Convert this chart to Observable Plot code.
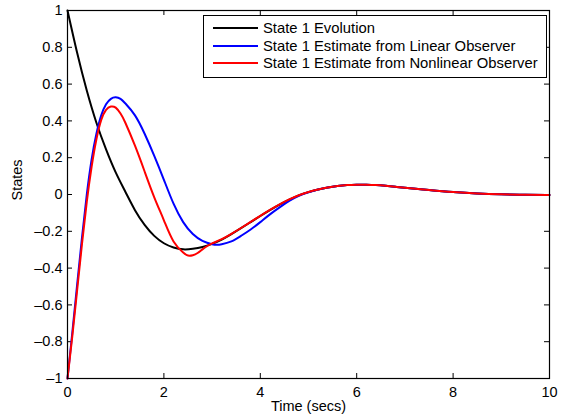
<!DOCTYPE html>
<html>
<head>
<meta charset="utf-8">
<script src="https://cdn.jsdelivr.net/npm/d3@7"></script>
<script src="https://cdn.jsdelivr.net/npm/@observablehq/plot@0.6"></script>
<style>
  html, body { margin: 0; padding: 0; background: #fff; }
  #wrap { position: relative; width: 563px; height: 417px; font-family: "Liberation Sans", Arial, sans-serif; }
  #legend { position: absolute; left: 203px; top: 15px; width: 344px; height: 63px; border: 1px solid #000; background: #fff; box-sizing: border-box; }
  .row { position: absolute; left: 0; height: 18px; display: flex; align-items: center; font-size: 14.8px; color: #000; white-space: nowrap; }
  .row svg { margin-left: 9px; margin-right: 5px; }
</style>
</head>
<body>
<div id="wrap"><div id="legend"></div></div>
<script>
// ---- data ----
const seriesNames = ["State 1 Evolution", "State 1 Estimate from Linear Observer", "State 1 Estimate from Nonlinear Observer"];
const seriesColors = ["#000000", "#0000ff", "#ff0000"];

const tTrue = [0, 0.2, 0.4, 0.6, 0.8, 1.0, 1.2, 1.4, 1.6, 1.8, 2.0, 2.2, 2.4, 2.6, 2.8, 3.0, 3.2, 3.4, 3.6, 3.8, 4.0, 4.2, 4.4, 4.6, 4.8, 5.0, 5.2, 5.4, 5.6, 5.8, 6.0, 6.2, 6.4, 6.6, 6.8, 7.0, 7.5, 8.0, 8.5, 9.0, 9.5, 10];
const yTrue = [1.0, 0.77, 0.565, 0.39, 0.245, 0.12, 0.015, -0.085, -0.165, -0.225, -0.265, -0.288, -0.298, -0.295, -0.285, -0.268, -0.245, -0.215, -0.183, -0.15, -0.117, -0.085, -0.055, -0.028, -0.005, 0.013, 0.027, 0.038, 0.046, 0.051, 0.053, 0.053, 0.051, 0.047, 0.042, 0.037, 0.025, 0.014, 0.006, 0.001, -0.002, -0.003];

const tLin = [0, 0.1, 0.2, 0.3, 0.4, 0.5, 0.6, 0.7, 0.8, 0.9, 1.0, 1.1, 1.2, 1.4, 1.6, 1.8, 2.0, 2.2, 2.4, 2.6, 2.8, 3.0, 3.1, 3.2, 3.4, 3.6, 3.8, 4.0, 4.2, 4.4, 4.6, 4.8, 5.0, 5.2, 5.4, 5.6, 5.8, 6.0, 6.2, 6.4, 6.6, 6.8, 7.0, 7.5, 8.0, 8.5, 9.0, 9.5, 10];
const yLin = [-1, -0.75, -0.49, -0.235, 0.0, 0.19, 0.33, 0.43, 0.49, 0.52, 0.528, 0.52, 0.495, 0.43, 0.33, 0.21, 0.08, -0.05, -0.15, -0.215, -0.252, -0.27, -0.273, -0.27, -0.255, -0.225, -0.19, -0.15, -0.108, -0.07, -0.035, -0.007, 0.012, 0.027, 0.038, 0.046, 0.051, 0.053, 0.053, 0.051, 0.047, 0.042, 0.037, 0.025, 0.014, 0.006, 0.001, -0.002, -0.003];

const tNonlin = [0, 0.1, 0.2, 0.3, 0.4, 0.5, 0.6, 0.7, 0.8, 0.9, 1.0, 1.1, 1.2, 1.4, 1.6, 1.8, 2.0, 2.2, 2.4, 2.5, 2.6, 2.7, 2.8, 2.9, 3.0, 3.2, 3.4, 3.6, 3.8, 4.0, 4.2, 4.4, 4.6, 4.8, 5.0, 5.2, 5.4, 5.6, 5.8, 6.0, 6.2, 6.4, 6.6, 6.8, 7.0, 7.5, 8.0, 8.5, 9.0, 9.5, 10];
const yNonlin = [-1, -0.77, -0.52, -0.27, -0.04, 0.15, 0.3, 0.405, 0.46, 0.478, 0.472, 0.44, 0.39, 0.265, 0.125, -0.015, -0.14, -0.255, -0.315, -0.332, -0.33, -0.318, -0.298, -0.28, -0.266, -0.243, -0.214, -0.182, -0.149, -0.116, -0.084, -0.054, -0.027, -0.004, 0.014, 0.027, 0.038, 0.046, 0.051, 0.053, 0.053, 0.051, 0.047, 0.042, 0.037, 0.025, 0.014, 0.006, 0.001, -0.002, -0.003];

const xTicks = [0, 2, 4, 6, 8, 10];
const yTicks = [-1, -0.8, -0.6, -0.4, -0.2, 0, 0.2, 0.4, 0.6, 0.8, 1];
const xLabel = "Time (secs)";
const yLabel = "States";

// ---- build ----
const W = 563, H = 417;
const mL = 67, mR = 14, mT = 10, mB = 39;
const innerH = H - mT - mB, innerW = W - mL - mR;
const tick = 5;

const toRows = (ts, ys, s) => ts.map((t, i) => ({t, y: ys[i], s}));
const data = [
  ...toRows(tTrue, yTrue, seriesNames[0]),
  ...toRows(tLin, yLin, seriesNames[1]),
  ...toRows(tNonlin, yNonlin, seriesNames[2])
];
const fmt = d => (d < 0 ? "\u2013" : "") + d3.format("~g")(Math.abs(d));

const chart = Plot.plot({
  width: W, height: H,
  marginLeft: mL, marginRight: mR, marginTop: mT, marginBottom: mB,
  style: {fontFamily: '"Liberation Sans", Arial, sans-serif', fontSize: "14.5px", color: "#000", background: "#fff"},
  x: {domain: [0, 10]},
  y: {domain: [-1, 1]},
  color: {domain: seriesNames, range: seriesColors},
  marks: [
    Plot.axisX({ticks: xTicks, tickSize: 0, tickPadding: 8, tickFormat: fmt, label: null}),
    Plot.axisY({ticks: yTicks, tickSize: 0, tickPadding: 5, tickFormat: fmt, label: null}),
    Plot.ruleX(xTicks, {x: d => d, insetTop: innerH - tick, stroke: "#000"}),
    Plot.ruleX(xTicks, {x: d => d, insetBottom: innerH - tick, stroke: "#000"}),
    Plot.ruleY(yTicks, {y: d => d, insetRight: innerW - tick, stroke: "#000"}),
    Plot.ruleY(yTicks, {y: d => d, insetLeft: innerW - tick, stroke: "#000"}),
    Plot.line(data, {x: "t", y: "y", z: "s", stroke: "s", strokeWidth: 2, curve: "natural"}),
    Plot.frame({stroke: "#000", strokeWidth: 1.2}),
    Plot.text([xLabel], {text: d => d, frameAnchor: "bottom", dy: 32, fontSize: 14.5}),
    Plot.text([yLabel], {text: d => d, frameAnchor: "left", dx: -50, dy: 6, rotate: -90, fontSize: 14.5})
  ]
});
document.getElementById("wrap").prepend(chart);
const svg = document.querySelector("#wrap > svg");
svg.style.position = "absolute"; svg.style.left = "0"; svg.style.top = "0";

const legend = document.getElementById("legend");
seriesNames.forEach((name, i) => {
  const row = document.createElement("div");
  row.className = "row";
  row.style.top = (3 + i * 17.7) + "px";
  row.innerHTML = `<svg width="45" height="4"><line x1="0" y1="2" x2="45" y2="2" stroke="${seriesColors[i]}" stroke-width="2"/></svg><span>${name}</span>`;
  legend.appendChild(row);
});
</script>
</body>
</html>
